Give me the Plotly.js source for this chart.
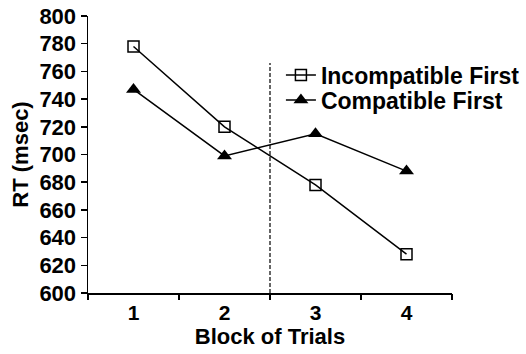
<!DOCTYPE html>
<html><head><meta charset="utf-8">
<script src="https://cdn.plot.ly/plotly-3.0.1.min.js"></script>
<style>html,body{margin:0;padding:0;background:#fff;}#chart{width:526px;height:354px;}</style>
</head><body><div id="chart"></div>
<script>
const blocks = [1, 2, 3, 4];
const blockLabels = ['1', '2', '3', '4'];
const incompatibleFirst = [778, 720, 678, 628];
const compatibleFirst = [747, 699, 715, 688];
const boundaryTicks = [0.5, 1.5, 2.5, 3.5, 4.5];
const dividerX = 2.5;
const dividerTop = 766;

const font = {family: 'Liberation Sans, Arial, sans-serif', color: '#000'};
const bold = (s) => Object.assign({size: s, weight: 'bold'}, font);
const traces = [
  {x: blocks, y: incompatibleFirst, name: 'Incompatible First', mode: 'lines+markers', legend: 'legend',
   line: {color: '#000', width: 1.5},
   marker: {symbol: 'square-open', size: 11, color: '#000', line: {width: 1.5, color: '#000'}}},
  {x: blocks, y: compatibleFirst, name: 'Compatible First', mode: 'lines+markers', legend: 'legend2',
   line: {color: '#000', width: 1.5},
   marker: {symbol: 'triangle-up', size: 13, color: '#000'}},
  {x: boundaryTicks, y: boundaryTicks.map(() => null), xaxis: 'x2', showlegend: false, hoverinfo: 'skip', mode: 'markers'}
];
const legendBase = {x: 0.530, xanchor: 'left', yanchor: 'middle',
  bgcolor: 'rgba(0,0,0,0)', font: bold(23), itemwidth: 30};
const layout = {
  width: 526, height: 354,
  margin: {l: 88, r: 74, t: 16, b: 61, autoexpand: false},
  paper_bgcolor: '#fff', plot_bgcolor: '#fff',
  font: Object.assign({size: 22}, font),
  showlegend: true,
  legend: Object.assign({y: 0.787}, legendBase),
  legend2: Object.assign({y: 0.697}, legendBase),
  xaxis: {range: [0.5, 4.5], tickvals: blocks, ticktext: blockLabels, ticks: '', showgrid: false,
    zeroline: false, showline: true, linecolor: '#000', linewidth: 1.5,
    tickfont: bold(21), automargin: false,
    title: {text: 'Block of Trials', font: bold(22), standoff: 6}},
  xaxis2: {range: [0.5, 4.5], overlaying: 'x', tickvals: boundaryTicks, ticks: 'outside', ticklen: 6,
    tickwidth: 1.5, tickcolor: '#000', showticklabels: false, showgrid: false, zeroline: false, showline: false},
  yaxis: {range: [600, 800], dtick: 20, ticks: 'outside', ticklen: 6, tickwidth: 1.5, tickcolor: '#000',
    showgrid: false, zeroline: false, showline: true, linecolor: '#000', linewidth: 1.5,
    tickfont: bold(22), automargin: false,
    title: {text: 'RT (msec)', font: bold(22), standoff: 4}},
  shapes: [{type: 'line', xref: 'x', yref: 'y', x0: dividerX, x1: dividerX, y0: 600, y1: dividerTop,
    line: {color: '#000', width: 1.2, dash: '4px,2px'}}]
};
Plotly.newPlot('chart', traces, layout, {displayModeBar: false, staticPlot: true});
</script></body></html>
